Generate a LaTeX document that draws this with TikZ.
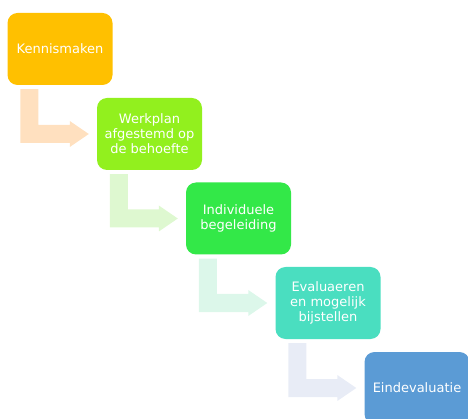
\documentclass[tikz,border=0pt]{standalone}
\usepackage{fontspec}
\setmainfont{DejaVu Sans}
\usetikzlibrary{calc}

\definecolor{oranje}{HTML}{FFC000}
\definecolor{limoen}{HTML}{92F01E}
\definecolor{groen}{HTML}{33E848}
\definecolor{turkoois}{HTML}{4ADEC0}
\definecolor{blauw}{HTML}{5B9BD5}
\definecolor{oranjelicht}{HTML}{FFE0BF}
\definecolor{limoenlicht}{HTML}{DEF8D0}
\definecolor{groenlicht}{HTML}{DCF7EA}
\definecolor{turkooislicht}{HTML}{E8ECF6}

% bent arrow from the foot of one box to the side of the next
\newcommand{\bentarrow}[3]{%
    \coordinate (s) at ($(#1.south west)+(13,4)$);
    \coordinate (t) at ($(#2.west)+(-8,0)$);
    \fill[#3] (s) -- ++(18,0) |- ($(t)+(-19,-9)$) -- ++(0,-4) -- (t)
        -- ($(t)+(-19,13)$) -- ++(0,-4) -| (s);
}

\begin{document}
\begin{tikzpicture}[x=1pt, y=-1pt,
        stap/.style={rounded corners=10pt, minimum width=105pt, minimum height=72pt,
            inner sep=2pt, align=center, text=white, font=\fontsize{13}{15}\selectfont}]
    \useasboundingbox (0,0) rectangle (468,419);

    \node[stap, fill=oranje] (kennis) at (60,49) {Kennismaken};
    \node[stap, fill=limoen] (werkplan) at (149.5,134) {Werkplan\\afgestemd op\\de behoefte};
    \node[stap, fill=groen] (begeleiding) at (238.5,218.5) {Individuele\\begeleiding};
    \node[stap, fill=turkoois] (evalueren) at (328,303) {Evaluaeren\\en mogelijk\\bijstellen};
    \node[stap, fill=blauw] (eind) at (417,388) {Eindevaluatie};

    \bentarrow{kennis}{werkplan}{oranjelicht}
    \bentarrow{werkplan}{begeleiding}{limoenlicht}
    \bentarrow{begeleiding}{evalueren}{groenlicht}
    \bentarrow{evalueren}{eind}{turkooislicht}
\end{tikzpicture}
\end{document}
